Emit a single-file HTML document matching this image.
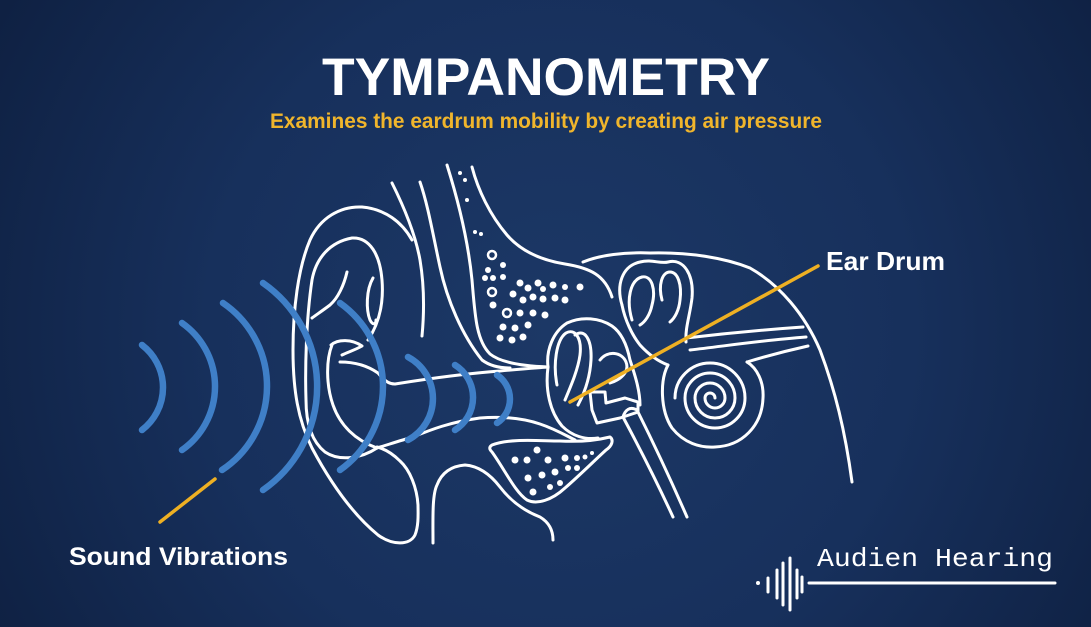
<!DOCTYPE html>
<html>
<head>
<meta charset="utf-8">
<style>
  html, body { margin:0; padding:0; background:#13274b; }
  body { width:1091px; height:627px; overflow:hidden; }
  svg { display:block; }
</style>
</head>
<body>
<svg width="1091" height="627" viewBox="0 0 1091 627" xmlns="http://www.w3.org/2000/svg">
  <defs>
    <radialGradient id="bg" cx="560" cy="330" r="640" gradientUnits="userSpaceOnUse">
      <stop offset="0" stop-color="#1c3866"/>
      <stop offset="0.55" stop-color="#17305c"/>
      <stop offset="1" stop-color="#0f2143"/>
    </radialGradient>
  </defs>
  <rect x="0" y="0" width="1091" height="627" fill="url(#bg)"/>

  <!-- Title -->
  <text x="322" y="95" font-family="'Liberation Sans', sans-serif" font-weight="bold" font-size="53" fill="#ffffff" textLength="448" lengthAdjust="spacingAndGlyphs">TYMPANOMETRY</text>
  <text x="270" y="128" font-family="'Liberation Sans', sans-serif" font-weight="bold" font-size="21" fill="#f0b52c" textLength="552" lengthAdjust="spacingAndGlyphs">Examines the eardrum mobility by creating air pressure</text>

  <!-- Ear drawing -->
  <g fill="none" stroke="#ffffff" stroke-width="3" stroke-linecap="round" stroke-linejoin="round">
    <!-- helix outer + lobe + tragus -->
    <path d="M412,240 C402,222 385,209 362,207 C340,206 320,218 310,240 C298,268 293,310 293,350 C293,390 298,420 312,448 C328,478 350,512 378,535 C393,546 410,545 415,535 C419,525 418,512 418,505 C417,488 410,470 400,461 C392,453 385,449 377,447"/>
    <!-- antihelix -->
    <path d="M377,448 C362,458 340,462 325,452 C310,440 306,420 306,400 C305,370 306,320 312,280 C316,258 330,242 352,238 C370,237 380,255 382,280 C384,305 378,325 368,340"/>
    <path d="M347,272 C344,285 338,298 330,305 C322,311 316,315 312,318"/>
    <path d="M373,278 C366,290 366,310 370,320 C373,326 376,324 376,320"/>
    <!-- concha -->
    <path d="M332,345 C326,360 326,385 333,405 C340,425 355,440 377,448"/>
    <path d="M331,345 C338,339 352,339 362,346 C355,350 348,352 342,355"/>
    <!-- canal -->
    <path d="M340,362 C355,362 368,366 378,373 C384,380 388,384 395,384 C420,380 460,374 500,371 C520,369 535,368 548,367"/>
    <path d="M377,448 C390,444 402,440 413,437 C430,430 450,422 480,418 C505,416 525,419 540,424 C555,429 565,435 575,440"/>
    <!-- skull lines -->
    <path d="M392,183 C403,205 415,232 420,260 C425,290 424,315 422,336"/>
    <path d="M420,182 C428,205 433,235 440,267 C447,300 462,335 482,360 C490,366 500,368 510,368"/>
    <path d="M447,165 C458,200 468,240 472,280 C475,315 476,340 490,354 C500,362 520,366 548,367"/>
    <path d="M472,167 C478,190 490,215 507,235 C520,250 540,260 565,264 C590,268 605,275 612,297"/>
    <path d="M583,262 C600,255 625,252 650,253 C690,252 725,258 750,268 C780,285 805,315 820,350 C835,390 845,430 852,482"/>
    <!-- lower structures -->
    <path d="M433,543 C433,520 432,495 437,485 C442,472 452,466 465,465 C478,466 490,474 500,487 C510,500 522,510 540,517 C550,523 553,532 553,540"/>
    <path d="M492,445 C510,438 540,441 560,441 C580,442 598,440 610,437 C614,440 612,446 606,450 C595,460 580,475 565,488 C552,500 537,505 527,500 C515,492 505,470 492,452 C489,449 489,447 492,445 Z"/>
    <!-- middle ear -->
    <path d="M548,367 C546,350 553,332 567,323 C582,316 600,318 612,326 C622,333 627,345 630,360 C636,378 640,392 640,405"/>
    <path d="M548,367 C545,390 550,412 562,426 C572,436 585,440 598,438"/>
    <path d="M557,385 C553,365 556,340 566,333 C575,328 582,338 580,355 C578,370 570,388 565,400"/>
    <path d="M575,335 C585,328 592,340 591,360 C590,378 585,392 578,405"/>
    <path d="M590,392 L605,392 L606,403 L625,398 L638,402 L638,412 L620,418 L597,423 L592,410 Z"/>
    <path d="M600,360 C608,350 622,352 626,362 C630,372 620,380 610,383"/>
    <!-- eustachian tube -->
    <path d="M623,417 C638,445 656,480 673,517"/>
    <path d="M637,410 C652,440 670,478 687,517"/>
    <path d="M623,417 C625,410 630,406 637,410"/>
    <!-- semicircular canals -->
    <path d="M622,305 C616,285 622,266 640,262 C652,259 660,264 668,262 C684,258 694,275 692,298 C690,315 685,328 686,342"/>
    <path d="M632,320 C626,300 630,280 642,277 C652,275 656,290 652,305 C650,315 645,322 640,325"/>
    <path d="M662,300 C658,285 662,272 670,272 C678,272 682,285 680,300 C679,310 675,318 670,322"/>
    <path d="M622,305 C625,320 632,335 640,345 C650,356 660,362 668,365"/>
    <!-- nerve -->
    <path d="M686,338 C720,334 760,330 803,327"/>
    <path d="M690,350 C725,346 765,340 806,337"/>
    <path d="M747,362 C770,355 790,350 808,346"/>
    <!-- cochlea -->
    <path d="M668,365 C660,380 660,410 672,428 C684,443 700,448 715,447 C742,446 762,426 763,398 C764,382 757,368 747,362"/>
    <path d="M715,398 A5,5 0 0 0 705,398 A10,10 0 0 0 725,398 A15,15 0 0 0 695,398 A20,20 0 0 0 735,398 A25,25 0 0 0 685,398 A30,30 0 0 0 745,398 A35,35 0 0 0 675,398"/>
  </g>

  <!-- dots -->
  <g fill="#ffffff">
    <circle cx="460" cy="173" r="2"/><circle cx="465" cy="180" r="2"/><circle cx="467" cy="200" r="2"/>
    <circle cx="475" cy="232" r="2"/><circle cx="481" cy="234" r="2"/>
    <circle cx="503" cy="265" r="3"/><circle cx="488" cy="270" r="3"/>
    <circle cx="485" cy="278" r="3"/><circle cx="493" cy="278" r="3"/><circle cx="503" cy="277" r="3"/>
    <circle cx="520" cy="283" r="3.5"/><circle cx="528" cy="288" r="3.5"/><circle cx="538" cy="283" r="3.5"/>
    <circle cx="543" cy="289" r="3"/><circle cx="553" cy="285" r="3.5"/><circle cx="565" cy="287" r="3"/>
    <circle cx="580" cy="287" r="3.5"/><circle cx="513" cy="294" r="3.5"/><circle cx="523" cy="300" r="3.5"/>
    <circle cx="533" cy="297" r="3.5"/><circle cx="543" cy="299" r="3.5"/><circle cx="555" cy="298" r="3.5"/>
    <circle cx="565" cy="300" r="3.5"/><circle cx="493" cy="305" r="3.5"/><circle cx="520" cy="313" r="3.5"/>
    <circle cx="533" cy="313" r="3.5"/><circle cx="545" cy="315" r="3.5"/><circle cx="503" cy="327" r="3.5"/>
    <circle cx="515" cy="328" r="3.5"/><circle cx="528" cy="325" r="3.5"/><circle cx="500" cy="338" r="3.5"/>
    <circle cx="512" cy="340" r="3.5"/><circle cx="523" cy="337" r="3.5"/>
    <circle cx="515" cy="460" r="3.5"/><circle cx="527" cy="460" r="3.5"/><circle cx="537" cy="450" r="3.5"/>
    <circle cx="548" cy="460" r="3.5"/><circle cx="565" cy="458" r="3.5"/><circle cx="577" cy="458" r="3"/>
    <circle cx="585" cy="457" r="2.5"/><circle cx="592" cy="453" r="2"/><circle cx="528" cy="478" r="3.5"/>
    <circle cx="542" cy="475" r="3.5"/><circle cx="555" cy="472" r="3.5"/><circle cx="568" cy="468" r="3"/>
    <circle cx="577" cy="468" r="3"/><circle cx="533" cy="492" r="3.5"/><circle cx="550" cy="487" r="3"/>
    <circle cx="560" cy="483" r="3"/>
  </g>
  <g fill="none" stroke="#ffffff" stroke-width="2.5">
    <circle cx="492" cy="255" r="4"/>
    <circle cx="492" cy="292" r="4"/>
    <circle cx="507" cy="313" r="4"/>
  </g>

  <!-- sound wave arcs -->
  <g fill="none" stroke="#3f7fc7" stroke-width="6.5" stroke-linecap="round">
    <path d="M142,345 A53.5,53.5 0 0 1 142,430"/>
    <path d="M182,323 A77.6,77.6 0 0 1 182,450"/>
    <path d="M223,303 A100.6,100.6 0 0 1 222,470"/>
    <path d="M263,283 A126,126 0 0 1 263,490"/>
    <path d="M340,303 A102.6,102.6 0 0 1 340,470"/>
    <path d="M408,357 A47,47 0 0 1 408,440"/>
    <path d="M455,365 A38.3,38.3 0 0 1 455,430"/>
    <path d="M497,375 A28.7,28.7 0 0 1 497,423"/>
  </g>

  <!-- pointer lines -->
  <g stroke="#eeb023" stroke-width="3.5" stroke-linecap="round">
    <line x1="570" y1="402" x2="818" y2="266"/>
    <line x1="160" y1="522" x2="215" y2="479"/>
  </g>

  <!-- labels -->
  <text x="826" y="270" font-family="'Liberation Sans', sans-serif" font-weight="bold" font-size="26" fill="#ffffff" textLength="119" lengthAdjust="spacingAndGlyphs">Ear Drum</text>
  <text x="69" y="565" font-family="'Liberation Sans', sans-serif" font-weight="bold" font-size="25" fill="#ffffff" textLength="219" lengthAdjust="spacingAndGlyphs">Sound Vibrations</text>

  <!-- logo -->
  <g stroke="#ffffff" stroke-width="3" stroke-linecap="round" fill="none">
    <line x1="768" y1="578" x2="768" y2="592"/>
    <line x1="777" y1="570" x2="777" y2="598"/>
    <line x1="783" y1="563" x2="783" y2="605"/>
    <line x1="790" y1="558" x2="790" y2="610"/>
    <line x1="797" y1="570" x2="797" y2="598"/>
    <line x1="802" y1="577" x2="802" y2="592"/>
    <line x1="809" y1="583" x2="1055" y2="583"/>
  </g>
  <circle cx="758" cy="583" r="2" fill="#ffffff"/>
  <text x="817" y="566" font-family="'Liberation Mono', monospace" font-size="26" fill="#ffffff" textLength="236" lengthAdjust="spacingAndGlyphs">Audien Hearing</text>
</svg>
</body>
</html>
